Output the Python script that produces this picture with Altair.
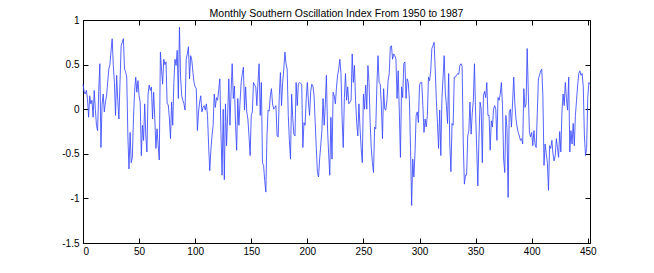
import altair as alt
import pandas as pd

title_text = "Monthly Southern Oscillation Index From 1950 to 1987"

soi = [
    # 0-37
    0.28, 0.2, 0.17, 0.21, 0.12, -0.09, 0.15, 0.06, 0.1, -0.09,
    0.21, 0.0, -0.18, -0.24, 0.2, 0.51, -0.43, 0.05, 0.17, -0.03,
    0.08, 0.15, 0.3, 0.45, 0.5, 0.65, 0.79, 0.49, 0.3, -0.07,
    0.38, 0.1, -0.11, 0.3, 0.71, 0.75, 0.79, 0.45,
    # 38-75
    0.42, 0.36, -0.3, -0.67, -0.26, -0.6, -0.54, -0.1, 0.2, 0.36,
    0.19, 0.32, 0.15, 0.08, -0.52, -0.18, -0.35, 0.06, -0.3, -0.48,
    0.17, 0.27, 0.21, 0.25, -0.11, 0.19, -0.1, -0.44, -0.22, -0.4,
    -0.57, 0.64, 0.45, 0.28, 0.56, 0.5, 0.53, 0.06,
    # 76-113
    0.05, -0.1, -0.33, 0.08, -0.18, 0.3, 0.56, 0.49, 0.66, 0.12,
    0.92, 0.36, 0.15, 0.1, 0.06, -0.01, 0.56, 0.62, 0.7, 0.34,
    0.6, 0.55, 0.41, 0.3, 0.25, 0.23, -0.24, -0.03, 0.08, 0.15,
    -0.03, 0.02, 0.04, -0.01, 0.06, -0.07, -0.41, -0.69,
    # 114-152
    -0.46, -0.3, -0.18, 0.17, 0.02, 0.13, 0.1, 0.22, 0.34, -0.26,
    -0.74, 0.0, -0.79, 0.06, -0.41, -0.05, 0.34, -0.18, 0.19, 0.51,
    0.12, 0.26, -0.18, -0.46, 0.12, -0.18, 0.08, 0.3, 0.4, 0.47,
    -0.01, 0.25, -0.03, -0.11, -0.3, -0.52, -0.07, -0.03, 0.3,
    # 153-190
    0.27, 0.25, 0.04, 0.3, 0.51, -0.07, 0.3, -0.6, -0.63, -0.8,
    -0.93, -0.3, -0.01, -0.02, 0.15, 0.23, 0.06, 0.0, 0.02, 0.04,
    -0.3, -0.31, 0.15, 0.41, 0.04, 0.3, 0.45, 0.64, 0.51, 0.45,
    -0.07, -0.35, -0.56, 0.17, -0.1, -0.28, -0.3, 0.3,
    # 191-229
    0.04, 0.28, 0.3, 0.29, 0.28, -0.43, -0.15, -0.18, 0.12, 0.3,
    0.08, -0.07, 0.2, 0.28, 0.26, 0.15, -0.15, -0.44, -0.71, -0.76,
    -0.55, -0.4, -0.24, 0.12, -0.18, 0.05, 0.38, -0.22, -0.5, -0.74,
    -0.09, -0.56, 0.19, 0.15, 0.06, 0.25, 0.38, 0.45, 0.56,
    # 230-267
    0.4, -0.1, -0.43, 0.12, 0.4, 0.1, 0.25, 0.06, 0.08, 0.1,
    0.62, 0.3, 0.49, 0.1, -0.15, -0.3, 0.06, -0.22, -0.44, -0.6,
    0.17, 0.0, 0.27, 0.0, 0.49, 0.3, -0.15, -0.44, -0.6, -0.71,
    -0.2, -0.22, 0.27, 0.6, 0.3, 0.28, 0.04, -0.33,
    # 268-305
    0.23, 0.0, -0.01, 0.1, 0.32, 0.4, 0.7, 0.71, 0.56, 0.62,
    0.6, 0.56, 0.12, 0.43, -0.03, -0.54, 0.25, 0.13, 0.51, 0.53,
    0.12, 0.34, 0.3, 0.1, -0.44, -1.08, -0.56, -0.76, -0.48, -0.07,
    -0.03, -0.15, 0.27, 0.3, 0.3, 0.04, -0.26, -0.11,
    # 306-344
    -0.2, -0.07, 0.36, 0.32, 0.43, 0.68, 0.71, 0.75, 0.45, 0.1,
    -0.15, -0.44, -0.01, -0.52, 0.12, 0.35, 0.6, 0.19, 0.04, -0.16,
    0.4, -0.39, -0.7, -0.16, -0.18, 0.36, 0.36, 0.38, 0.4, 0.39,
    0.49, 0.51, 0.48, -0.37, -0.84, -0.74, -0.74, -0.3, -0.24,
    # 345-382
    0.08, -0.28, -0.05, 0.1, 0.51, -0.03, -0.44, -0.86, -0.33, 0.08,
    0.0, -0.6, 0.15, 0.2, 0.13, 0.3, -0.07, -0.07, -0.46, -0.13,
    -0.2, 0.0, 0.04, 0.0, -0.35, 0.13, 0.1, 0.17, 0.3, 0.04,
    -0.56, -0.71, -0.07, -0.22, -0.99, -0.03, 0.0, -0.2,
    # 383-420
    0.08, 0.36, 0.06, -0.11, -0.2, -0.26, -0.3, -0.35, -0.33, -0.39,
    0.23, 0.02, 0.06, 0.68, 0.19, -0.26, -0.31, -0.26, -0.41, -0.24,
    -0.39, -0.43, -0.05, 0.34, 0.38, 0.43, 0.45, 0.15, -0.63, -0.39,
    -0.5, -0.6, -0.91, -0.41, -0.44, -0.35, -0.5, -0.58,
    # 421-452
    -0.52, -0.33, -0.43, -0.54, -0.25, -0.48, -0.03, 0.17, 0.04, 0.3,
    0.12, -0.01, 0.36, -0.48, -0.24, -0.39, -0.16, -0.41, -0.07, 0.1,
    0.27, 0.4, 0.43, 0.38, 0.4, 0.25, -0.3, -0.52, -0.44, 0.13,
    0.3, 0.28,
]
months = list(range(len(soi)))

x_ticks = [0, 50, 100, 150, 200, 250, 300, 350, 400, 450]
y_ticks = [1, 0.5, 0, -0.5, -1, -1.5]

df = pd.DataFrame({"month": months, "soi": soi})

xscale = alt.Scale(domain=[0, len(soi) - 1], nice=False, zero=False)
yscale = alt.Scale(domain=[-1.5, 1], nice=False, zero=False)

tick_len = 5

base = alt.Chart(df)

line = base.mark_line(color="#3848ff", strokeWidth=0.85).encode(
    x=alt.X("month:Q", scale=xscale,
            axis=alt.Axis(orient="bottom", values=x_ticks, title=None,
                          offset=-tick_len, tickSize=tick_len, labelPadding=3,
                          labelExpr="toString(datum.value)")),
    y=alt.Y("soi:Q", scale=yscale,
            axis=alt.Axis(orient="left", values=y_ticks, title=None,
                          offset=-tick_len, tickSize=tick_len, labelPadding=4,
                          labelExpr="toString(datum.value)")),
)

frame = base.mark_line(opacity=0).encode(
    x=alt.X("month:Q", scale=xscale,
            axis=alt.Axis(orient="top", values=x_ticks, title=None, labels=False,
                          offset=-tick_len, tickSize=tick_len)),
    y=alt.Y("soi:Q", scale=yscale,
            axis=alt.Axis(orient="right", values=y_ticks, title=None, labels=False,
                          offset=-tick_len, tickSize=tick_len)),
)

chart = alt.layer(line, frame).resolve_axis(
    x="independent", y="independent"
).properties(
    width=507,
    height=223,
    title=alt.TitleParams(title_text, fontSize=10.5, font="Liberation Sans",
                          fontWeight="normal", color="black", offset=-4,
                          anchor="middle"),
    autosize=alt.AutoSizeParams(type="none"),
    padding={"left": 75, "top": 12, "right": 50, "bottom": 20},
).configure_view(
    stroke="black", strokeWidth=1
).configure_axis(
    grid=False, domain=False, tickColor="black", tickWidth=1,
    labelFont="Liberation Sans", labelFontSize=10, labelColor="black",
)

chart.save("out.html", embed_options={"renderer": "svg", "actions": False})
